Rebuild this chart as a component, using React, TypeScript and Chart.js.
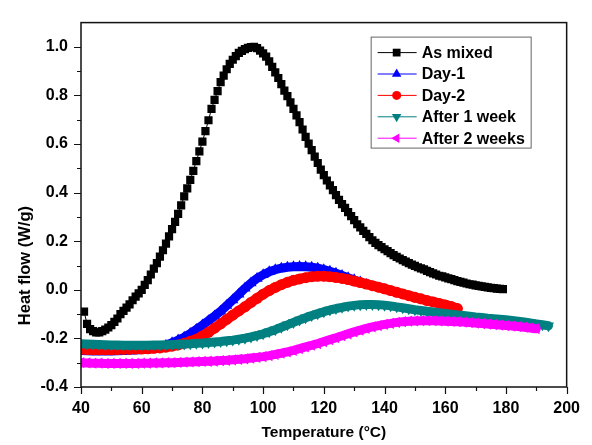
import { useEffect, useRef } from "react";
import { Chart, registerables } from "chart.js";

Chart.register(...registerables);

// DSC heat-flow curves (Temperature in °C, heat flow in W/g)
const asMixedT = [41, 42, 43, 44, 45, 46, 47, 48, 49, 50, 51, 52, 53, 54, 55, 56, 57, 58, 59, 60, 61, 62, 63, 64, 65, 66, 67, 68, 69, 70, 71, 72, 73, 74, 75, 76, 77, 78, 79, 80, 81, 82, 83, 84, 85, 86, 87, 88, 89, 90, 91, 92, 93, 94, 95, 96, 97, 98, 99, 100, 101, 102, 103, 104, 105, 106, 107, 108, 109, 110, 111, 112, 113, 114, 115, 116, 117, 118, 119, 120, 121, 122, 123, 124, 125, 126, 127, 128, 129, 130, 131, 132, 133, 134, 135, 136, 137, 138, 139, 140, 141, 142, 143, 144, 145, 146, 147, 148, 149, 150, 151, 152, 153, 154, 155, 156, 157, 158, 159, 160, 161, 162, 163, 164, 165, 166, 167, 168, 169, 170, 171, 172, 173, 174, 175, 176, 177, 178, 179];
const asMixedHF = [-0.09, -0.14, -0.162, -0.17, -0.175, -0.175, -0.17, -0.164, -0.155, -0.145, -0.132, -0.118, -0.1, -0.087, -0.073, -0.06, -0.043, -0.028, -0.015, 0.0, 0.02, 0.04, 0.063, 0.087, 0.11, 0.137, 0.163, 0.19, 0.22, 0.25, 0.28, 0.313, 0.348, 0.385, 0.418, 0.453, 0.49, 0.53, 0.57, 0.61, 0.653, 0.698, 0.745, 0.782, 0.818, 0.855, 0.882, 0.908, 0.93, 0.947, 0.962, 0.975, 0.984, 0.991, 0.996, 0.999, 1.0, 0.995, 0.985, 0.973, 0.96, 0.94, 0.918, 0.895, 0.872, 0.847, 0.82, 0.797, 0.772, 0.745, 0.718, 0.69, 0.66, 0.63, 0.602, 0.575, 0.548, 0.522, 0.495, 0.472, 0.45, 0.43, 0.41, 0.39, 0.37, 0.353, 0.337, 0.32, 0.303, 0.287, 0.27, 0.257, 0.243, 0.23, 0.217, 0.204, 0.193, 0.184, 0.176, 0.167, 0.159, 0.151, 0.143, 0.136, 0.129, 0.122, 0.116, 0.11, 0.104, 0.099, 0.093, 0.088, 0.084, 0.078, 0.073, 0.068, 0.063, 0.058, 0.055, 0.051, 0.047, 0.044, 0.04, 0.036, 0.033, 0.03, 0.026, 0.023, 0.021, 0.018, 0.016, 0.014, 0.012, 0.01, 0.008, 0.007, 0.005, 0.004, 0.003];

const day1T = [40, 42, 44, 46, 48, 50, 52, 54, 56, 58, 60, 62, 64, 66, 68, 70, 72, 74, 76, 78, 80, 82, 84, 86, 88, 90, 92, 94, 96, 98, 100, 102, 104, 106, 108, 110, 112, 114, 116, 118, 120, 122, 124, 126, 128, 130, 132, 134];
const day1HF = [-0.25, -0.251, -0.252, -0.252, -0.252, -0.252, -0.251, -0.25, -0.249, -0.248, -0.246, -0.244, -0.241, -0.236, -0.228, -0.218, -0.207, -0.195, -0.18, -0.163, -0.145, -0.127, -0.108, -0.088, -0.065, -0.042, -0.018, 0.006, 0.028, 0.047, 0.062, 0.074, 0.083, 0.089, 0.093, 0.095, 0.096, 0.095, 0.093, 0.089, 0.083, 0.076, 0.068, 0.059, 0.05, 0.041, 0.032, 0.022];

const day2T = [40, 42, 44, 46, 48, 50, 52, 54, 56, 58, 60, 62, 64, 66, 68, 70, 72, 74, 76, 78, 80, 82, 84, 86, 88, 90, 92, 94, 96, 98, 100, 102, 104, 106, 108, 110, 112, 114, 116, 118, 120, 122, 124, 126, 128, 130, 132, 134, 136, 138, 140, 142, 144, 146, 148, 150, 152, 154, 156, 158, 160, 162, 164];
const day2HF = [-0.245, -0.246, -0.247, -0.247, -0.247, -0.247, -0.246, -0.245, -0.245, -0.244, -0.244, -0.243, -0.241, -0.239, -0.236, -0.232, -0.227, -0.22, -0.212, -0.203, -0.19, -0.175, -0.158, -0.14, -0.122, -0.104, -0.087, -0.07, -0.052, -0.035, -0.018, -0.003, 0.01, 0.021, 0.031, 0.039, 0.045, 0.05, 0.054, 0.056, 0.056, 0.054, 0.051, 0.047, 0.042, 0.036, 0.03, 0.024, 0.017, 0.011, 0.004, -0.003, -0.01, -0.017, -0.024, -0.031, -0.037, -0.044, -0.05, -0.056, -0.062, -0.069, -0.077];

const week1T = [40, 42, 44, 46, 48, 50, 52, 54, 56, 58, 60, 62, 64, 66, 68, 70, 72, 74, 76, 78, 80, 82, 84, 86, 88, 90, 92, 94, 96, 98, 100, 102, 104, 106, 108, 110, 112, 114, 116, 118, 120, 122, 124, 126, 128, 130, 132, 134, 136, 138, 140, 142, 144, 146, 148, 150, 152, 154, 156, 158, 160, 162, 164, 166, 168, 170, 172, 174, 176, 178, 180, 182, 184, 186, 188, 190, 192, 194];
const week1HF = [-0.222, -0.223, -0.224, -0.225, -0.226, -0.227, -0.227, -0.228, -0.228, -0.228, -0.228, -0.228, -0.227, -0.227, -0.226, -0.225, -0.224, -0.223, -0.222, -0.22, -0.219, -0.217, -0.215, -0.213, -0.21, -0.207, -0.203, -0.199, -0.194, -0.188, -0.181, -0.173, -0.164, -0.154, -0.144, -0.134, -0.124, -0.115, -0.106, -0.098, -0.09, -0.083, -0.077, -0.072, -0.067, -0.064, -0.061, -0.06, -0.06, -0.061, -0.063, -0.066, -0.07, -0.074, -0.078, -0.082, -0.085, -0.088, -0.091, -0.094, -0.097, -0.1, -0.103, -0.106, -0.109, -0.112, -0.114, -0.117, -0.119, -0.121, -0.123, -0.126, -0.129, -0.132, -0.136, -0.14, -0.144, -0.148];

const week2T = [40, 42, 44, 46, 48, 50, 52, 54, 56, 58, 60, 62, 64, 66, 68, 70, 72, 74, 76, 78, 80, 82, 84, 86, 88, 90, 92, 94, 96, 98, 100, 102, 104, 106, 108, 110, 112, 114, 116, 118, 120, 122, 124, 126, 128, 130, 132, 134, 136, 138, 140, 142, 144, 146, 148, 150, 152, 154, 156, 158, 160, 162, 164, 166, 168, 170, 172, 174, 176, 178, 180, 182, 184, 186, 188, 190];
const week2HF = [-0.3, -0.301, -0.302, -0.302, -0.303, -0.303, -0.303, -0.303, -0.303, -0.303, -0.302, -0.302, -0.301, -0.301, -0.3, -0.3, -0.299, -0.298, -0.297, -0.296, -0.295, -0.294, -0.293, -0.291, -0.29, -0.288, -0.286, -0.284, -0.281, -0.278, -0.275, -0.271, -0.266, -0.261, -0.255, -0.249, -0.242, -0.235, -0.228, -0.221, -0.213, -0.205, -0.197, -0.189, -0.181, -0.173, -0.166, -0.159, -0.153, -0.147, -0.142, -0.138, -0.134, -0.131, -0.129, -0.128, -0.127, -0.127, -0.127, -0.128, -0.129, -0.13, -0.131, -0.133, -0.135, -0.137, -0.139, -0.141, -0.143, -0.145, -0.147, -0.149, -0.151, -0.154, -0.157, -0.16];

const seriesNames = ["As mixed", "Day-1", "Day-2", "After 1 week", "After 2 weeks"];

const xMajorTicks = [40, 60, 80, 100, 120, 140, 160, 180, 200];
const xMinorTicks = [50, 70, 90, 110, 130, 150, 170, 190];
const yMajorTicks = [-0.4, -0.2, 0.0, 0.2, 0.4, 0.6, 0.8, 1.0];
const yMinorTicks = [-0.3, -0.1, 0.1, 0.3, 0.5, 0.7, 0.9];

const FONT = '"Liberation Sans", Arial, Helvetica, sans-serif';

type Marker = { style: "rect" | "circle" | "triangle"; rotation: number; color: string };
const markers: Marker[] = [
  { style: "rect", rotation: 0, color: "#000000" },
  { style: "triangle", rotation: 0, color: "#0000ff" },
  { style: "circle", rotation: 0, color: "#ff0000" },
  { style: "triangle", rotation: 180, color: "#008080" },
  { style: "triangle", rotation: -90, color: "#ff00ff" },
];

function toPoints(xs: number[], ys: number[]) {
  return xs.map((x, i) => ({ x, y: ys[i] }));
}

function drawMarker(ctx: CanvasRenderingContext2D, m: Marker, x: number, y: number, r: number) {
  ctx.fillStyle = m.color;
  ctx.beginPath();
  if (m.style === "rect") {
    const s = r / Math.SQRT2;
    ctx.rect(x - s, y - s, 2 * s, 2 * s);
  } else if (m.style === "circle") {
    ctx.arc(x, y, r, 0, Math.PI * 2);
  } else {
    let rad = (m.rotation * Math.PI) / 180;
    ctx.moveTo(x + Math.sin(rad) * r, y - Math.cos(rad) * r);
    rad += (2 * Math.PI) / 3;
    ctx.lineTo(x + Math.sin(rad) * r, y - Math.cos(rad) * r);
    rad += (2 * Math.PI) / 3;
    ctx.lineTo(x + Math.sin(rad) * r, y - Math.cos(rad) * r);
    ctx.closePath();
  }
  ctx.fill();
}

const framePlugin = {
  id: "frameTicksTitlesLegend",
  afterDraw(chart: Chart) {
    const { ctx, chartArea: a } = chart;
    const xs = chart.scales.x;
    const ys = chart.scales.y;
    ctx.save();

    // plot frame
    ctx.strokeStyle = "#111";
    ctx.lineWidth = 1.5;
    ctx.strokeRect(a.left, a.top, a.right - a.left, a.bottom - a.top);

    // outward tick marks
    ctx.lineWidth = 1.2;
    ctx.beginPath();
    for (const v of xMajorTicks) {
      const p = Math.round(xs.getPixelForValue(v)) + 0.5;
      ctx.moveTo(p, a.bottom);
      ctx.lineTo(p, a.bottom + 7);
    }
    for (const v of xMinorTicks) {
      const p = Math.round(xs.getPixelForValue(v)) + 0.5;
      ctx.moveTo(p, a.bottom);
      ctx.lineTo(p, a.bottom + 4);
    }
    for (const v of yMajorTicks) {
      const p = Math.round(ys.getPixelForValue(v)) + 0.5;
      ctx.moveTo(a.left, p);
      ctx.lineTo(a.left - 7, p);
    }
    for (const v of yMinorTicks) {
      const p = Math.round(ys.getPixelForValue(v)) + 0.5;
      ctx.moveTo(a.left, p);
      ctx.lineTo(a.left - 4, p);
    }
    ctx.stroke();

    // axis titles
    ctx.fillStyle = "#000";
    ctx.textAlign = "center";
    ctx.textBaseline = "middle";
    ctx.font = `bold 15.5px ${FONT}`;
    ctx.fillText("Temperature (°C)", (a.left + a.right) / 2, a.bottom + 46);
    ctx.save();
    ctx.font = `bold 16.5px ${FONT}`;
    ctx.translate(a.left - 56, a.top + 243);
    ctx.rotate(-Math.PI / 2);
    ctx.fillText("Heat flow (W/g)", 0, 0);
    ctx.restore();

    // legend
    const bx = a.right - 196;
    const by = a.top + 14;
    const bw = 160;
    const bh = 111;
    ctx.strokeStyle = "#666";
    ctx.lineWidth = 1;
    ctx.strokeRect(bx + 0.5, by + 0.5, bw, bh);
    ctx.font = `bold 16px ${FONT}`;
    ctx.textAlign = "left";
    seriesNames.forEach((name, i) => {
      const ry = by + 16 + i * 21.4;
      const m = markers[i];
      ctx.strokeStyle = m.color;
      ctx.lineWidth = 1;
      ctx.beginPath();
      ctx.moveTo(bx + 7, ry);
      ctx.lineTo(bx + 46, ry);
      ctx.stroke();
      drawMarker(ctx, m, bx + 26, ry, m.style === "rect" ? 5.5 : m.style === "circle" ? 4.5 : 5.5);
      ctx.fillStyle = "#000";
      ctx.fillText(name, bx + 51, ry + 1);
    });

    ctx.restore();
  },
};

export default function App() {
  const canvasRef = useRef<HTMLCanvasElement>(null);

  useEffect(() => {
    const canvas = canvasRef.current;
    if (!canvas) return;

    const bandStyle = (i: number, width: number, radius: number) => ({
      borderColor: markers[i].color,
      backgroundColor: markers[i].color,
      pointBackgroundColor: markers[i].color,
      pointBorderWidth: 0,
      pointStyle: markers[i].style,
      rotation: markers[i].rotation,
      pointRadius: radius,
      borderWidth: width,
      borderJoinStyle: "round" as const,
      borderCapStyle: "round" as const,
      tension: 0,
      fill: false,
    });

    const chart = new Chart(canvas, {
      type: "line",
      data: {
        datasets: [
          { label: seriesNames[0], data: toPoints(asMixedT, asMixedHF), ...bandStyle(0, 1, 5.8), order: 5 },
          { label: seriesNames[1], data: toPoints(day1T, day1HF), ...bandStyle(1, 9, 6.5), order: 4 },
          { label: seriesNames[2], data: toPoints(day2T, day2HF), ...bandStyle(2, 10, 5.5), order: 3 },
          { label: seriesNames[3], data: toPoints(week1T, week1HF), ...bandStyle(3, 9, 6.5), order: 2 },
          { label: seriesNames[4], data: toPoints(week2T, week2HF), ...bandStyle(4, 9, 6.5), order: 1 },
        ],
      },
      options: {
        responsive: false,
        animation: false,
        devicePixelRatio: 1,
        layout: { padding: { top: 13, right: 25, left: 0, bottom: 0 } },
        plugins: {
          legend: { display: false },
          tooltip: { enabled: false },
        },
        scales: {
          x: {
            type: "linear",
            position: "bottom",
            min: 40,
            max: 200,
            afterFit: (s: any) => {
              s.height = 58;
            },
            afterBuildTicks: (s: any) => {
              s.ticks = xMajorTicks.map((v) => ({ value: v }));
            },
            grid: { display: false, drawTicks: false },
            border: { display: false },
            ticks: {
              color: "#000",
              font: { family: FONT, size: 16, weight: "bold" },
              padding: 12,
              maxRotation: 0,
              autoSkip: false,
              callback: (v: any) => String(v),
            },
          },
          y: {
            type: "linear",
            min: -0.4,
            max: 1.1,
            afterFit: (s: any) => {
              s.width = 81;
            },
            afterBuildTicks: (s: any) => {
              s.ticks = yMajorTicks.map((v) => ({ value: v }));
            },
            grid: { display: false, drawTicks: false },
            border: { display: false },
            ticks: {
              color: "#000",
              font: { family: FONT, size: 16, weight: "bold" },
              padding: 13,
              autoSkip: false,
              callback: (v: any) => Number(v).toFixed(1),
            },
          },
        },
      },
      plugins: [framePlugin],
    });

    return () => chart.destroy();
  }, []);

  return (
    <div style={{ position: "fixed", left: 0, top: 0, width: 592, height: 445, background: "#fff" }}>
      <canvas ref={canvasRef} width={592} height={445} style={{ display: "block", width: 592, height: 445 }} />
    </div>
  );
}
